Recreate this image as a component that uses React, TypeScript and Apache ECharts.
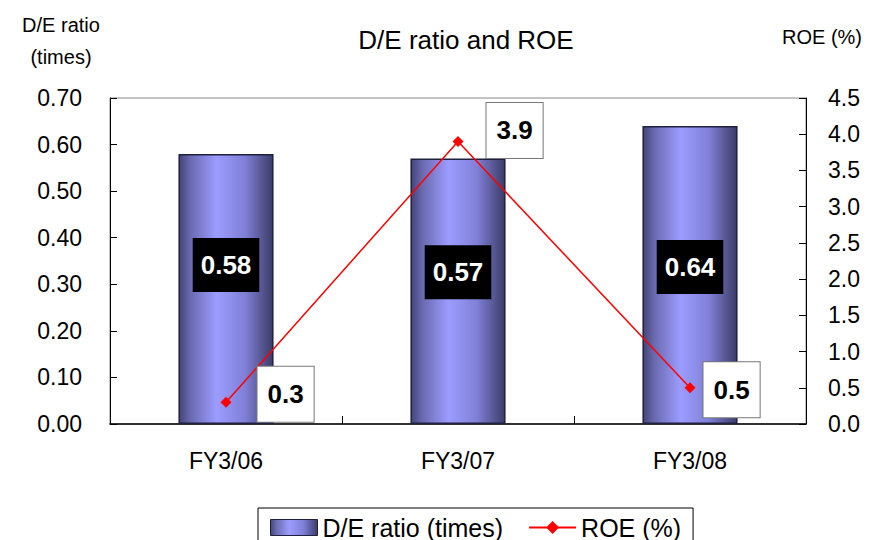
import React, { useEffect, useRef } from "react";
import * as echarts from "echarts";

const categories = ["FY3/06", "FY3/07", "FY3/08"];
const deRatio = [0.58, 0.57, 0.64];
const roe = [0.3, 3.9, 0.5];
const deLabelOffsets = [[0, -24], [0, -19], [0, -8]];
const roeLabelOffsets = [[22, -8], [19, -11], [4, 2]];

export default function App() {
  const ref = useRef<HTMLDivElement>(null);
  useEffect(() => {
    const chart = echarts.init(ref.current!, null, { renderer: "svg" });
    const font = "Liberation Sans, Arial, sans-serif";
    const barGrad = new echarts.graphic.LinearGradient(0, 0, 1, 0, [
      { offset: 0, color: "#444478" },
      { offset: 0.12, color: "#6a6ab0" },
      { offset: 0.4, color: "#9c9cff" },
      { offset: 0.7, color: "#8080d8" },
      { offset: 1, color: "#3c3c68" },
    ]);
    chart.setOption({
      animation: false,
      backgroundColor: "#fff",
      textStyle: { fontFamily: font },
      title: {
        text: "D/E ratio and ROE",
        left: 461,
        top: 22,
        textAlign: "center",
        textStyle: { fontFamily: font, fontSize: 26, fontWeight: "normal", color: "#000" },
      },
      graphic: [
        {
          type: "text",
          x: 61,
          y: 9,
          style: { text: "D/E ratio\n(times)", font: `20px ${font}`, fill: "#000", align: "center", lineHeight: 32 },
        },
        {
          type: "text",
          x: 862,
          y: 27,
          style: { text: "ROE (%)", font: `20px ${font}`, fill: "#000", align: "right" },
        },
      ],
      legend: {
        left: 258,
        top: 508,
        itemGap: 25,
        itemWidth: 47,
        itemHeight: 16,
        padding: [7, 12, 20, 12],
        borderColor: "#000",
        borderWidth: 1,
        textStyle: { fontFamily: font, fontSize: 25, color: "#000" },
        data: [
          { name: "D/E ratio (times)", icon: "rect", itemStyle: { borderColor: "#202040", borderWidth: 1 } },
          { name: "ROE (%)" },
        ],
      },
      grid: {
        left: 110,
        right: 71,
        top: 98,
        bottom: 116,
        show: true,
        borderColor: "#888",
        borderWidth: 1,
      },
      xAxis: {
        type: "category",
        data: categories,
        axisLine: { lineStyle: { color: "#000", width: 1.5 } },
        axisTick: { show: true, inside: true, length: 8, lineStyle: { color: "#000" } },
        axisLabel: { fontFamily: font, fontSize: 23, color: "#000", margin: 25 },
      },
      yAxis: [
        {
          type: "value",
          min: 0,
          max: 0.7,
          interval: 0.1,
          axisLine: { show: true, lineStyle: { color: "#000" } },
          axisTick: { show: true, inside: true, length: 7, lineStyle: { color: "#000" } },
          splitLine: { show: false },
          axisLabel: {
            fontFamily: font,
            fontSize: 23,
            color: "#000",
            margin: 28,
            formatter: (v: number) => v.toFixed(2),
          },
        },
        {
          type: "value",
          min: 0,
          max: 4.5,
          interval: 0.5,
          position: "right",
          axisLine: { show: true, lineStyle: { color: "#000" } },
          axisTick: { show: true, inside: true, length: 7, lineStyle: { color: "#000" } },
          splitLine: { show: false },
          axisLabel: {
            fontFamily: font,
            fontSize: 23,
            color: "#000",
            margin: 22,
            formatter: (v: number) => v.toFixed(1),
          },
        },
      ],
      series: [
        {
          name: "D/E ratio (times)",
          type: "bar",
          data: deRatio.map((v, i) => ({ value: v, label: { offset: deLabelOffsets[i] } })),
          barWidth: "41%",
          itemStyle: { color: barGrad, borderColor: "#202040", borderWidth: 1.5 },
          label: {
            show: true,
            position: "inside",
            formatter: (p: any) => p.value.toFixed(2),
            backgroundColor: "#000",
            color: "#fff",
            fontFamily: font,
            fontWeight: "bold",
            fontSize: 26,
            padding: [15, 8, 13, 8],
          },
        },
        {
          name: "ROE (%)",
          type: "line",
          yAxisIndex: 1,
          data: roe.map((v, i) => ({
            value: v,
            label: { offset: roeLabelOffsets[i] },
          })),
          symbol: "diamond",
          symbolSize: 11,
          lineStyle: { color: "#ff0000", width: 1.5 },
          itemStyle: { color: "#ff0000" },
          label: {
            show: true,
            position: "right",
            distance: 4,
            formatter: (p: any) => p.value.toFixed(1),
            backgroundColor: "#fff",
            borderColor: "#777",
            borderWidth: 1,
            color: "#000",
            fontFamily: font,
            fontWeight: "bold",
            fontSize: 26,
            padding: [16, 10, 13, 10],
          },
        },
      ],
    });
    return () => chart.dispose();
  }, []);
  return <div ref={ref} style={{ width: 877, height: 540, position: "absolute", left: 0, top: 0 }} />;
}
